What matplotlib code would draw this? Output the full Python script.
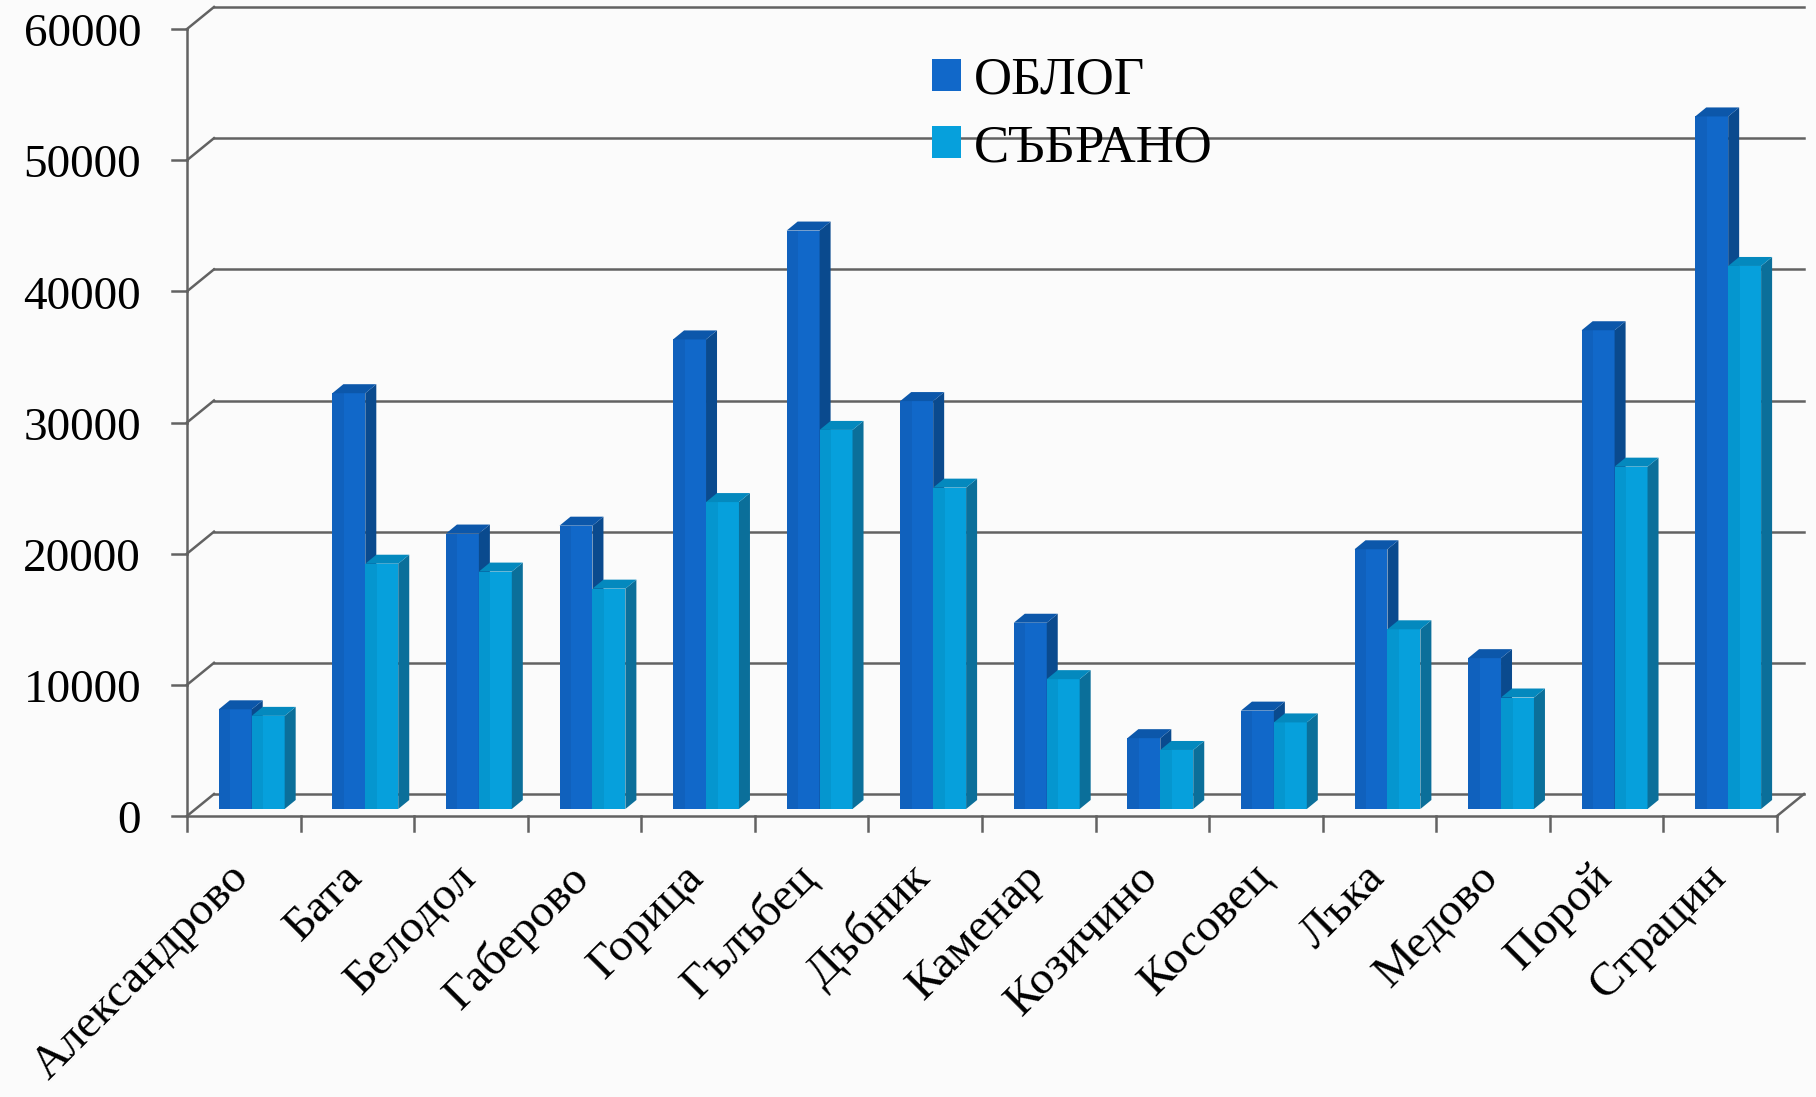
import numpy as np
import matplotlib
matplotlib.use("Agg")
from matplotlib import pyplot as plt
from matplotlib.patches import Polygon, Patch
from matplotlib.transforms import offset_copy

plt.rcParams['font.family'] = ['Liberation Serif', 'DejaVu Serif']

villages = ['Александрово', 'Бата', 'Белодол', 'Габерово', 'Горица', 'Гълъбец',
            'Дъбник', 'Каменар', 'Козичино', 'Косовец', 'Лъка', 'Медово',
            'Порой', 'Страцин']
oblog = [7600, 31700, 21000, 21600, 35800, 44100, 31100, 14200, 5400, 7500,
         19800, 11500, 36500, 52800]
sabrano = [7100, 18700, 18100, 16800, 23400, 28900, 24500, 9900, 4500, 6600,
           13700, 8500, 26100, 41400]
series = ['ОБЛОГ', 'СЪБРАНО']
yticks = np.arange(0, 60001, 10000)

# colours: front, side, top
c_oblog = ('#1168c9', '#0a4a8e', '#0c57aa')
c_sabr = ('#06a0dc', '#0b6f9a', '#0489be')

W, H = 1816, 1097
fig = plt.figure(figsize=(W / 100, H / 100), dpi=100, facecolor='#fbfbfb')
ax = fig.add_axes([187 / W, (H - 816) / H, (1777 - 187) / W, (816 - 29) / H])
ax.set_xlim(0, len(villages))
ax.set_ylim(0, 60000)
ax.axis('off')

gcol = '#626262'
lw = 1.8
back = offset_copy(ax.transData, fig=fig, x=27, y=22, units='dots')
n = len(villages)

# back wall grid + left diagonals
for v in yticks:
    ax.plot([0, n], [v, v], color=gcol, lw=lw, transform=back, clip_on=False, zorder=1)
    p0 = ax.transData.transform((0, v))
    p1 = back.transform((0, v))
    ax.plot([p0[0], p1[0]], [p0[1], p1[1]], color=gcol, lw=lw,
            transform=None, clip_on=False, zorder=1)
# right floor diagonal
p0 = ax.transData.transform((n, 0))
p1 = back.transform((n, 0))
ax.plot([p0[0], p1[0]], [p0[1], p1[1]], color=gcol, lw=lw, transform=None,
        clip_on=False, zorder=1)

# front axes
ax.plot([0, 0], [0, 60000], color=gcol, lw=lw, clip_on=False, zorder=5)
ax.plot([0, n], [0, 0], color=gcol, lw=lw, clip_on=False, zorder=5)
tick_px = 15
for v in yticks:
    p = ax.transData.transform((0, v))
    ax.plot([p[0] - tick_px, p[0]], [p[1], p[1]], color=gcol, lw=lw,
            transform=None, clip_on=False)
    ax.text(p[0] - 46, p[1] - 6, str(v), ha='right', va='center', fontsize=34,
            transform=None)
for i in range(n + 1):
    p = ax.transData.transform((i, 0))
    ax.plot([p[0], p[0]], [p[1], p[1] - tick_px], color=gcol, lw=lw,
            transform=None, clip_on=False)
for i, name in enumerate(villages):
    p = ax.transData.transform((i + 0.5, 0))
    ax.text(p[0] + 14, p[1] - 40, name, rotation=45, ha='right', va='top',
            fontsize=34, transform=None)

# pseudo-3D bars
bar_tr = offset_copy(ax.transData, fig=fig, x=0, y=7, units='dots')
depth = (11, 9)
bw = 0.29


def bar3d(x0, val, cols, z):
    fx0, fy0 = bar_tr.transform((x0, 0))
    fx1, fy1 = bar_tr.transform((x0 + bw, val))
    dx, dy = depth
    front = Polygon([(fx0, fy0), (fx1, fy0), (fx1, fy1), (fx0, fy1)],
                    closed=True, fc=cols[0], ec='none', transform=None, zorder=z)
    strip = Polygon([(fx0, fy0), (fx0 + (fx1 - fx0) * 0.35, fy0),
                     (fx0 + (fx1 - fx0) * 0.35, fy1), (fx0, fy1)],
                    closed=True, fc='black', alpha=0.06, ec='none',
                    transform=None, zorder=z)
    side = Polygon([(fx1, fy0), (fx1 + dx, fy0 + dy), (fx1 + dx, fy1 + dy), (fx1, fy1)],
                   closed=True, fc=cols[1], ec='none', transform=None, zorder=z)
    top = Polygon([(fx0, fy1), (fx1, fy1), (fx1 + dx, fy1 + dy), (fx0 + dx, fy1 + dy)],
                  closed=True, fc=cols[2], ec='none', transform=None, zorder=z)
    for patch in (front, strip, side, top):
        ax.add_patch(patch)


for i in range(n):
    bar3d(i + 0.28, oblog[i], c_oblog, 3)
    bar3d(i + 0.28 + bw, sabrano[i], c_sabr, 4)

handles = [Patch(fc=c_oblog[0], ec='none'), Patch(fc=c_sabr[0], ec='none')]
fig.legend(handles, series, loc='upper left', bbox_to_anchor=(932 / W, 1 - 57 / H),
           frameon=False, fontsize=38, handlelength=0.55, handleheight=0.55,
           handletextpad=0.25, labelspacing=0.36, borderpad=0, borderaxespad=0)

fig.savefig('out.png', dpi=100, facecolor=fig.get_facecolor())
